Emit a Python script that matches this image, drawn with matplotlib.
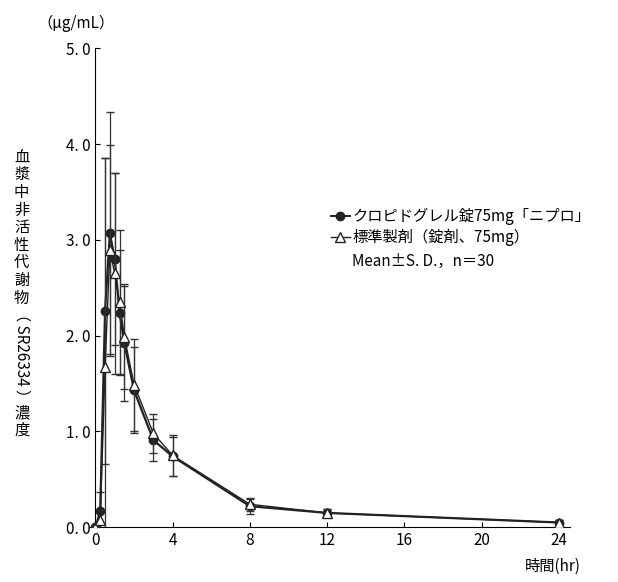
import matplotlib.pyplot as plt
from matplotlib.lines import Line2D

plt.rcParams['font.family'] = ['Noto Sans CJK JP', 'DejaVu Sans']

hours = [0, 0.25, 0.5, 0.75, 1, 1.25, 1.5, 2, 3, 4, 8, 12, 24]
test_mean = [0, 0.17, 2.26, 3.07, 2.80, 2.24, 1.92, 1.43, 0.91, 0.74, 0.22, 0.15, 0.05]
test_sd = [0, 0.20, 1.60, 1.26, 0.90, 0.65, 0.60, 0.45, 0.22, 0.20, 0.08, 0.04, 0.03]
ref_mean = [0, 0.08, 1.67, 2.89, 2.65, 2.35, 1.99, 1.49, 0.98, 0.75, 0.24, 0.15, 0.05]
ref_sd = [0, 0.10, 2.19, 1.10, 1.05, 0.75, 0.55, 0.48, 0.20, 0.21, 0.07, 0.04, 0.03]
labels = ['クロピドグレル錠75mg「ニプロ」', '標準製剤（錠剤、75mg）']

fig = plt.figure(figsize=(6.18, 5.82), dpi=100)
ax = fig.add_axes([0.145, 0.094, 0.778, 0.823])

ax.errorbar(hours, test_mean, yerr=test_sd, color='#222222', marker='o', ms=6,
            mfc='#222222', lw=1.6, capsize=3, elinewidth=0.9, ecolor='#333333', zorder=3)
ax.errorbar(hours, ref_mean, yerr=ref_sd, color='#222222', marker='^', ms=7,
            mfc='white', lw=1.0, capsize=3, elinewidth=0.9, ecolor='#333333', zorder=4)

ax.set_xlim(-0.3, 24.6)
ax.set_ylim(0, 5.0)
ax.set_xticks([0, 4, 8, 12, 16, 20, 24])
ax.set_yticks([0, 1, 2, 3, 4, 5])
ax.set_yticklabels(['0. 0', '1. 0', '2. 0', '3. 0', '4. 0', '5. 0'])
for s in ['top', 'right']:
    ax.spines[s].set_visible(False)
ax.tick_params(direction='in', labelsize=11)
ax.spines['left'].set_position(('data', 0))

handles = [Line2D([], [], color='#222222', marker='o', ms=6, lw=1.4),
           Line2D([], [], color='#222222', marker='^', ms=7, mfc='white', lw=1.0)]
ax.legend(handles, labels, loc='upper left', bbox_to_anchor=(0.49, 0.68), frameon=False,
          fontsize=11, handlelength=1.2, handletextpad=0.2, labelspacing=0.25,
          borderaxespad=0)
ax.text(0.545, 0.545, 'Mean±S. D.，n＝30', transform=ax.transAxes, fontsize=11)

fig.text(0.06, 0.975, '（μg/mL）', fontsize=11, va='top')
# vertical y label: stacked kanji, sideways latin part
fig.text(0.035, 0.745, '\n'.join('血漿中非活性代謝物'), fontsize=11, va='top',
         ha='center', linespacing=1.05)
fig.text(0.035, 0.39, '（ SR26334 ）', rotation=-90, fontsize=11, va='center',
         ha='center')
fig.text(0.035, 0.305, '\n'.join('濃度'), fontsize=11, va='top', ha='center',
         linespacing=1.05)
fig.text(0.94, 0.02, '時間(hr)', fontsize=11, ha='right')

fig.savefig('out.png')
